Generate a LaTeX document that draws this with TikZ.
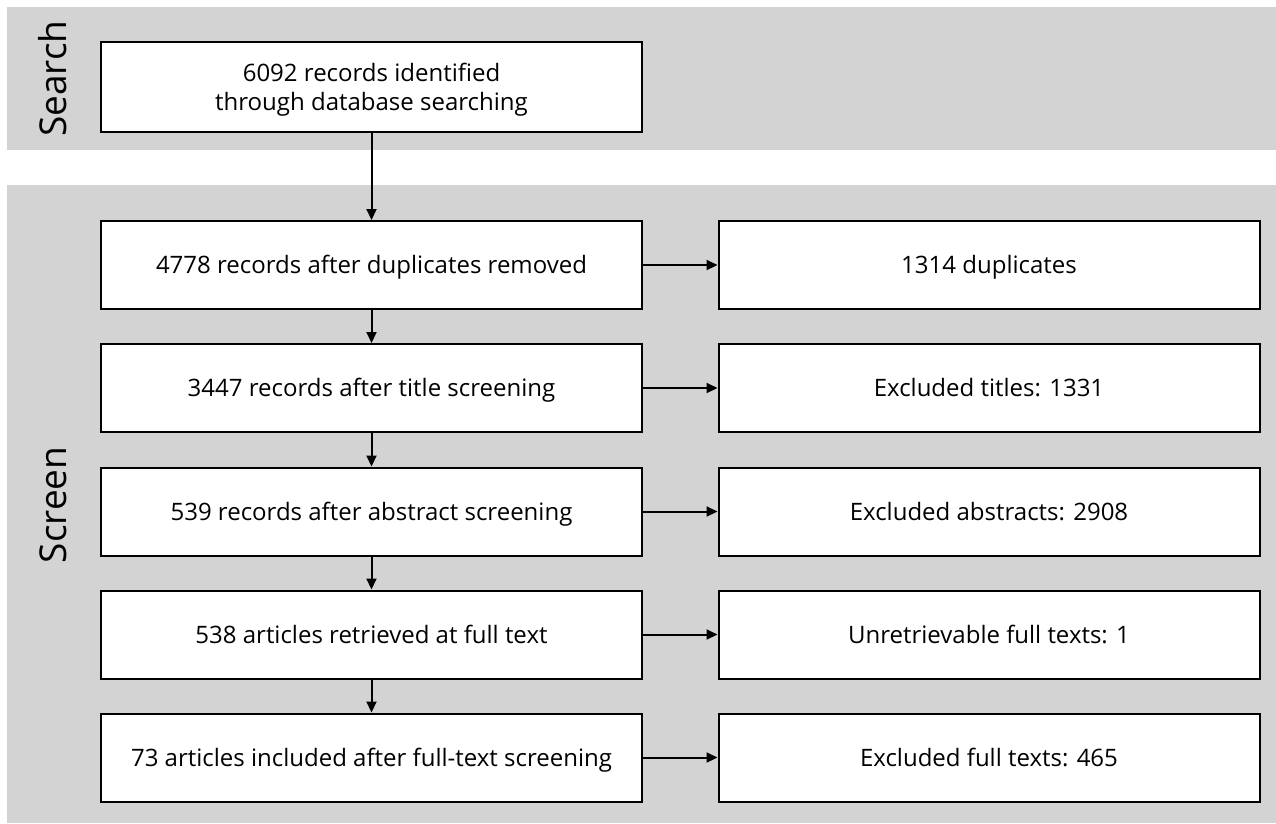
\documentclass[tikz,border=0pt]{standalone}
\usepackage{fontspec}
\setmainfont{Open Sans}
\usetikzlibrary{arrows.meta}
\definecolor{bandgray}{RGB}{211,211,211}
\tikzset{
  stagebox/.style={draw=black, line width=2pt, fill=white, inner sep=0pt,
    minimum width=541pt, minimum height=88pt, align=center,
    text depth=1pt, font=\fontsize{24}{29}\selectfont},
  flow/.style={line width=2pt, -{Triangle[length=11pt,width=10pt]}},
  phase/.style={rotate=90, font=\fontsize{37}{44}\selectfont, inner sep=0pt}
}
\begin{document}
\begin{tikzpicture}[x=1pt,y=-1pt]
\useasboundingbox (0,0) rectangle (1276,823);
% phase bands
\fill[bandgray] (7,7) rectangle (1276,150);
\fill[bandgray] (7,185) rectangle (1276,823);
\node[phase] (searchlbl) at (53,78.5) {Search};
\node[phase] (screenlbl) at (53,505) {Screen};
% main column
\node[stagebox, minimum height=90pt] (id) at (371.5,87) {6092 records identified\\through database searching};
\node[stagebox] (dup) at (371.5,265) {4778 records after duplicates removed};
\node[stagebox] (title) at (371.5,388) {3447 records after title screening};
\node[stagebox] (abs) at (371.5,511.5) {539 records after abstract screening};
\node[stagebox] (full) at (371.5,634.5) {538 articles retrieved at full text};
\node[stagebox] (incl) at (371.5,757.5) {73 articles included after full-text screening};
% exclusions
\node[stagebox] (xdup) at (989,265) {1314 duplicates};
\node[stagebox] (xtitle) at (989,388) {Excluded titles: 1331};
\node[stagebox] (xabs) at (989,511.5) {Excluded abstracts: 2908};
\node[stagebox] (xfull) at (989,634.5) {Unretrievable full texts: 1};
\node[stagebox] (xincl) at (989,757.5) {Excluded full texts: 465};
% connectors
\draw[flow] (id) -- (dup);
\draw[flow] (dup) -- (title);
\draw[flow] (title) -- (abs);
\draw[flow] (abs) -- (full);
\draw[flow] (full) -- (incl);
\draw[flow] (dup) -- (xdup);
\draw[flow] (title) -- (xtitle);
\draw[flow] (abs) -- (xabs);
\draw[flow] (full) -- (xfull);
\draw[flow] (incl) -- (xincl);
\end{tikzpicture}
\end{document}
